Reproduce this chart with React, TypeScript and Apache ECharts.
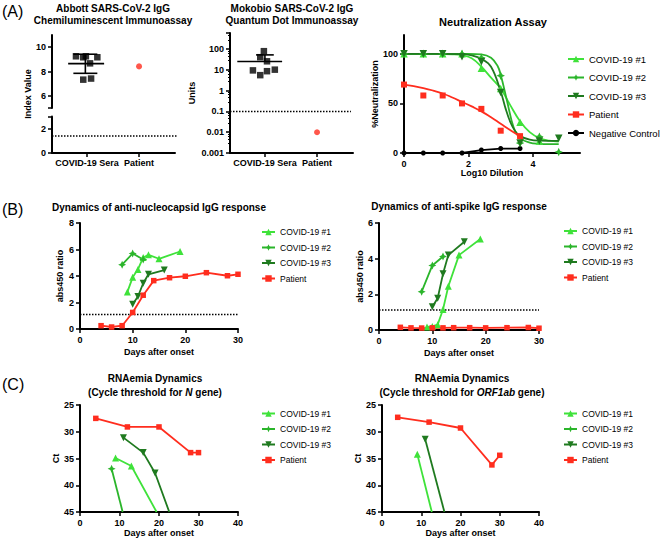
import React, { useEffect, useRef } from 'react';
import * as echarts from 'echarts';

const FONT = '"Liberation Sans", Arial, Helvetica, sans-serif';
const GREEN1 = '#3fe23a';
const GREEN2 = '#2bb52b';
const GREEN3 = '#1f7a1f';
const RED = '#ff2d1e';
const STAR = 'path://M0,-10 L3.2,-3.2 L10,0 L3.2,3.2 L0,10 L-3.2,3.2 L-10,0 L-3.2,-3.2 Z';

// ---------- Panel A: Abbott ----------
const groupLabels = ['COVID-19 Sera', 'Patient'];
const abbottJitter = [0.79, 0.93, 0.98, 1.2, 1.06, 0.93, 1.08];
const abbottValues = [9.25, 9.17, 9.25, 9.17, 8.67, 7.33, 7.42];
const abbottPatient = [2, 8.42];
// [whisker x, mean, mean-SD, mean+SD, mean line from, mean line to, cap half width]
const abbottMeanSd = [0.97, 8.65, 7.85, 9.42, 0.64, 1.33, 0.23];
const abbottCutoff = 1.4;

// ---------- Panel A: Mokobio ----------
const mokoJitter = [0.98, 0.91, 1.04, 0.77, 0.91, 1.04, 1.19];
const mokoValues = [80, 41, 26, 9.5, 5.6, 8.7, 10.3];
const mokoPatient = [2, 0.01];
const mokoMeanSd = [1.0, 25.6, null, 53, 0.47, 1.33, 0.17];
const mokoCutoff = 0.1;

// ---------- Panel A: Neutralization ----------
const neutX = [0, 0.6, 1.2, 1.8, 2.4, 3.0, 3.6, 4.2, 4.8];
const neutCovid1 = [100, 100, 100, 100, 85.5, 65, 31, 12, null];
const neutCovid2 = [100, 100, 100, 100, 96, 78, 10, 16.5, 1];
const neutCovid3 = [100, 100, 100, 97, 92, 61, 10, 12, 15];
const neutPatient = [69, 58, 58, 50, 44.5, 22.5, 17, null, null];
const neutNegative = [0, 0, 0, 0, 3, 4.5, 4.5, null, null];
const fitCovid1 = [[0, 100], [0.5, 100], [1, 100], [1.5, 99.5], [1.8, 98.5], [2.1, 95.5], [2.4, 87], [2.7, 76], [3.0, 65], [3.3, 48], [3.6, 32], [3.9, 21], [4.2, 15], [4.5, 12.5], [4.8, 11.5]];
const fitCovid2 = [[0, 100], [1, 100], [2, 100], [2.4, 99.5], [2.7, 96], [2.9, 88], [3.0, 79], [3.2, 52], [3.4, 26], [3.6, 15], [3.9, 10.5], [4.2, 9.3], [4.5, 9], [4.8, 9]];
const fitCovid3 = [[0, 100], [1, 100], [1.8, 99.8], [2.1, 98.5], [2.4, 95], [2.7, 87], [3.0, 62], [3.15, 45], [3.3, 31], [3.45, 22], [3.6, 17], [3.9, 13.5], [4.2, 12.5], [4.8, 12.3]];
const fitPatient = [[0, 69], [0.3, 67.5], [0.6, 65.5], [0.9, 63], [1.2, 60], [1.5, 56], [1.8, 51.5], [2.1, 47], [2.4, 42], [2.7, 36], [3.0, 29.5], [3.3, 23], [3.6, 17]];

// ---------- Panel B ----------
const nCovid1 = [[9, 2.8], [10, 3.9], [11, 4.5], [12, 5.4], [13, 5.6], [15, 5.3], [19, 5.85]];
const nCovid2 = [[8, 4.85], [10, 5.7], [12, 5.25]];
const nCovid3 = [[10, 1.86], [11, 2.45], [12, 3.45], [13, 4.13], [16, 4.45]];
const patientDays = [4, 6, 8, 10, 12, 14, 17, 20, 24, 28, 30];
const nPatient = [0.25, 0.15, 0.25, 1.25, 2.55, 3.65, 3.87, 3.98, 4.25, 4.02, 4.13];
const nCutoff = 1.1;
const sCovid1 = [[9, 0.17], [10, 0.2], [11, 0.3], [12, 1.15], [13, 2.45], [15, 4.2], [19, 5.1]];
const sCovid2 = [[8, 2.15], [10, 3.62], [12, 4.12]];
const sCovid3 = [[10, 1.3], [11, 1.78], [12, 3.15], [13, 4.2], [16, 4.95]];
const sPatient = [0.15, 0.12, 0.11, 0.12, 0.12, 0.13, 0.13, 0.12, 0.13, 0.14, 0.1];
const sCutoff = 1.12;

// ---------- Panel C ----------
const ctLimit = 45;
const ctNCovid1 = [[9, 34.9], [13, 36.4], [19.4, 45]];
const ctNCovid2 = [[8, 36.9], [10.8, 45]];
const ctNCovid3 = [[11, 31.1], [16, 33.9], [19, 37.7], [22.6, 45]];
const ctNPatient = [[4, 27.5], [12, 29.1], [20, 29.1], [28, 33.9], [30, 33.9]];
const ctOCovid1 = [[9, 34.2], [12.7, 45]];
const ctOCovid3 = [[11, 31.4], [15.9, 45]];
const ctOPatient = [[4, 27.3], [12, 28.2], [20, 29.3], [28, 36.2], [30, 34.4]];

const legendNames = ['COVID-19 #1', 'COVID-19 #2', 'COVID-19 #3', 'Patient'];

const zip = (xs: number[], ys: (number | null)[]) =>
  xs.map((x, i) => [x, ys[i]]).filter((p) => p[1] !== null && p[1] !== undefined);
const ctData = (pts: number[][]) =>
  pts.map(([d, c]) => (c >= ctLimit ? { value: [d, c], symbol: 'none' } : [d, c]));

const SERIES_STYLE: Record<string, any> = {
  'COVID-19 #1': { color: GREEN1, symbol: 'triangle', rotate: 0, size: 7 },
  'COVID-19 #2': { color: GREEN2, symbol: STAR, rotate: 0, size: 8 },
  'COVID-19 #3': { color: GREEN3, symbol: 'triangle', rotate: 180, size: 7 },
  Patient: { color: RED, symbol: 'rect', rotate: 0, size: 5.5 },
  'Negative Control': { color: '#000', symbol: 'circle', rotate: 0, size: 5 },
};

function dataLine(name: string, data: any[], idx: number) {
  const s = SERIES_STYLE[name];
  return {
    type: 'line', name, data, xAxisIndex: idx, yAxisIndex: idx,
    symbol: s.symbol, symbolRotate: s.rotate, symbolSize: s.size, showSymbol: true,
    itemStyle: { color: s.color }, lineStyle: { color: s.color, width: 1.8 },
    z: 3, silent: true,
  };
}
function fitLine(name: string, data: any[], idx: number, smooth = 0.4) {
  const s = SERIES_STYLE[name];
  return {
    type: 'line', name, data, xAxisIndex: idx, yAxisIndex: idx, symbol: 'none',
    smooth, lineStyle: { color: s.color, width: 1.8 }, itemStyle: { color: s.color },
    z: 2, silent: true,
  };
}
function markers(name: string, data: any[], idx: number) {
  const s = SERIES_STYLE[name];
  return {
    type: 'scatter', name, data, xAxisIndex: idx, yAxisIndex: idx,
    symbol: s.symbol, symbolRotate: s.rotate, symbolSize: s.size + 0.5,
    itemStyle: { color: s.color, opacity: 1 }, z: 4, silent: true,
  };
}
function cutoffLine(data: number[][], idx: number) {
  return {
    type: 'line', data, xAxisIndex: idx, yAxisIndex: idx, symbol: 'none', clip: false,
    lineStyle: { color: '#000', width: 1.5, type: [1.5, 1.5] }, z: 1, silent: true,
  };
}

function errorBar(params: any, api: any) {
  const v = (i: number) => api.value(i);
  const x = v(0), m = v(1), lo = v(2), hi = v(3), ml = v(4), mr = v(5), cw = v(6);
  const style = { stroke: '#000', lineWidth: 1.6 };
  const seg = (a: number[], b: number[]) => ({ type: 'line', shape: { x1: a[0], y1: a[1], x2: b[0], y2: b[1] }, style });
  const c = (a: number, b: number) => api.coord([a, b]);
  const children: any[] = [seg(c(ml, m), c(mr, m)), seg(c(x, m), c(x, hi)), seg(c(x - cw, hi), c(x + cw, hi))];
  if (isFinite(lo)) {
    children.push(seg(c(x, m), c(x, lo)));
    children.push(seg(c(x - cw, lo), c(x + cw, lo)));
  }
  return { type: 'group', children };
}

const nameS = () => ({ color: '#000', fontWeight: 'bold', fontSize: 9, fontFamily: FONT });

function axis(gi: number, o: any = {}) {
  return {
    type: 'value', gridIndex: gi, show: true, splitLine: { show: false },
    axisLine: { show: true, onZero: false, lineStyle: { color: '#000', width: 2 } },
    nameTextStyle: nameS(), nameLocation: 'middle',
    ...o,
    axisTick: { show: true, length: 4, inside: false, lineStyle: { color: '#000', width: 1.5 }, ...(o.axisTick || {}) },
    axisLabel: { show: true, color: '#000', fontWeight: 'bold', fontSize: 9, fontFamily: FONT, margin: 6, ...(o.axisLabel || {}) },
  };
}

function titleItem(text: string, cx: number, top: number, size: number, lh: number, extra: any = {}) {
  return {
    text, left: cx, top, padding: 0, textAlign: 'center', textVerticalAlign: 'top',
    textStyle: { fontFamily: FONT, fontWeight: 'bold', fontSize: size, lineHeight: lh, color: '#000', ...extra },
  };
}
function panelLabel(text: string, top: number) {
  return {
    text, left: 2, top, padding: 0, textAlign: 'left', textVerticalAlign: 'top',
    textStyle: { fontFamily: FONT, fontWeight: 'normal', fontSize: 16, color: '#000' },
  };
}
function legendItem(left: number, top: number, names: string[], w: number, h: number, gap: number, fs: number) {
  return {
    orient: 'vertical', left, top, padding: 0, itemWidth: w, itemHeight: h, itemGap: gap,
    selectedMode: false, data: names,
    textStyle: { fontFamily: FONT, fontSize: fs, color: '#000' },
  };
}

const catAxisX = (gi: number) =>
  axis(gi, {
    min: 0.33, max: 2.69,
    axisTick: { customValues: [1, 2] },
    axisLabel: { customValues: [1, 2], margin: 5, formatter: (v: number) => groupLabels[Math.round(v) - 1] || '' },
  });

const RICH_I = { fontFamily: FONT, fontWeight: 'bold', fontStyle: 'italic', fontSize: 10, lineHeight: 14, color: '#000' };
const RICH_B = { fontFamily: FONT, fontWeight: 'bold', fontSize: 10, lineHeight: 14, color: '#000' };

function buildOption(): any {
  const logLabels = ['0.001', '0.01', '0.1', '1', '10', '100'];
  return {
    animation: false,
    textStyle: { fontFamily: FONT, color: '#000' },
    title: [
      panelLabel('(A)', 3),
      panelLabel('(B)', 201),
      panelLabel('(C)', 376),
      titleItem('Abbott SARS-CoV-2 IgG\nChemiluminescent Immunoassay', 113, 2, 10, 12),
      titleItem('Mokobio SARS-CoV-2 IgG\nQuantum Dot Immunoassay', 292, 2, 10, 12),
      titleItem('Neutralization Assay', 493, 16, 11, 12),
      titleItem('Dynamics of anti-nucleocapsid IgG response', 159, 201, 10, 12),
      titleItem('Dynamics of anti-spike IgG response', 459, 200, 10, 12),
      titleItem('{b|RNAemia Dynamics}\n{b|(Cycle threshold for }{i|N}{b| gene)}', 155, 371, 10, 14, { rich: { i: RICH_I, b: RICH_B } }),
      titleItem('{b|RNAemia Dynamics}\n{b|(Cycle threshold for }{i|ORF1ab}{b| gene)}', 462, 371, 10, 14, { rich: { i: RICH_I, b: RICH_B } }),
    ],
    legend: [
      legendItem(567, 54, [...legendNames, 'Negative Control'], 16, 8, 8.5, 9.5),
      legendItem(261, 227.5, legendNames, 13, 8, 6.5, 8.5),
      legendItem(563, 226.5, legendNames, 13, 8, 6.5, 8.5),
      legendItem(261, 409, legendNames, 13, 8, 6.5, 8.5),
      legendItem(563, 409, legendNames, 13, 8, 6.5, 8.5),
    ],
    grid: [
      { left: 52, top: 35, width: 123, height: 73 },
      { left: 52, top: 116.5, width: 123, height: 36.5 },
      { left: 230, top: 33, width: 123, height: 120 },
      { left: 404, top: 35, width: 176, height: 118 },
      { left: 80, top: 223, width: 158, height: 106 },
      { left: 379, top: 223, width: 160, height: 107 },
      { left: 80, top: 405, width: 158, height: 107 },
      { left: 382, top: 405, width: 157, height: 107 },
    ],
    xAxis: [
      { type: 'value', gridIndex: 0, min: 0.33, max: 2.69, show: false },
      catAxisX(1),
      catAxisX(2),
      axis(3, { min: 0, max: 5.46, name: 'Log10 Dilution', nameGap: 15, axisTick: { customValues: [0, 2, 4] }, axisLabel: { customValues: [0, 2, 4] } }),
      axis(4, { min: 0, max: 30, interval: 10, name: 'Days after onset', nameGap: 18 }),
      axis(5, { min: 0, max: 30, interval: 10, name: 'Days after onset', nameGap: 18 }),
      axis(6, { min: 0, max: 40, interval: 10, name: 'Days after onset', nameGap: 16.5 }),
      axis(7, { min: 0, max: 40, interval: 10, name: 'Days after onset', nameGap: 16.5 }),
    ],
    yAxis: [
      axis(0, { min: 5, max: 11, axisTick: { customValues: [5, 6, 8, 10] }, axisLabel: { customValues: [6, 8, 10] } }),
      axis(1, { min: 0, max: 3, axisTick: { customValues: [0, 2, 3] }, axisLabel: { customValues: [0, 2], showMinLabel: true } }),
      axis(2, {
        type: 'log', logBase: 10, min: 0.001, max: 600, name: 'Units', nameGap: 33.5,
        minorTick: { show: true, splitNumber: 5, length: 2, lineStyle: { color: '#000', width: 1 } },
        axisLabel: {
          showMaxLabel: false,
          formatter: (v: number) => {
            const l = Math.log10(v);
            const r = Math.round(l);
            return Math.abs(l - r) < 1e-6 ? logLabels[r + 3] || '' : '';
          },
        },
      }),
      axis(3, { min: 0, max: 119, name: '%Neutralization', nameGap: 24.5, axisTick: { customValues: [0, 50, 100] }, axisLabel: { customValues: [0, 50, 100] } }),
      axis(4, { min: 0, max: 8, interval: 2, name: 'abs450 ratio', nameGap: 15.5 }),
      axis(5, { min: 0, max: 6, interval: 2, name: 'abs450 ratio', nameGap: 13.5 }),
      axis(6, { min: 25, max: 45, interval: 5, inverse: true, name: 'Ct', nameGap: 18.5 }),
      axis(7, { min: 25, max: 45, interval: 5, inverse: true, name: 'Ct', nameGap: 17.5 }),
    ],
    graphic: [
      {
        type: 'text', x: 28, y: 94, rotation: Math.PI / 2,
        style: { text: 'Index Value', fontFamily: FONT, fontWeight: 'bold', fontSize: 9, fill: '#000', align: 'center', verticalAlign: 'middle' },
      },
    ],
    series: [
      // B1 first so the legends take their icons from these line series
      dataLine('COVID-19 #1', nCovid1, 4),
      dataLine('COVID-19 #2', nCovid2, 4),
      dataLine('COVID-19 #3', nCovid3, 4),
      dataLine('Patient', zip(patientDays, nPatient), 4),
      cutoffLine([[0, nCutoff], [30, nCutoff]], 4),
      dataLine('Negative Control', zip(neutX, neutNegative), 3),
      dataLine('COVID-19 #1', sCovid1, 5),
      dataLine('COVID-19 #2', sCovid2, 5),
      dataLine('COVID-19 #3', sCovid3, 5),
      dataLine('Patient', zip(patientDays, sPatient), 5),
      cutoffLine([[0, sCutoff], [30, sCutoff]], 5),
      dataLine('COVID-19 #1', ctData(ctNCovid1), 6),
      dataLine('COVID-19 #2', ctData(ctNCovid2), 6),
      dataLine('COVID-19 #3', ctData(ctNCovid3), 6),
      dataLine('Patient', ctData(ctNPatient), 6),
      dataLine('COVID-19 #1', ctData(ctOCovid1), 7),
      dataLine('COVID-19 #3', ctData(ctOCovid3), 7),
      dataLine('Patient', ctData(ctOPatient), 7),
      {
        type: 'scatter', xAxisIndex: 0, yAxisIndex: 0, symbol: 'rect', symbolSize: 6.5,
        data: zip(abbottJitter, abbottValues), itemStyle: { color: '#000' }, z: 4, silent: true,
      },
      {
        type: 'scatter', xAxisIndex: 0, yAxisIndex: 0, symbol: 'circle', symbolSize: 6,
        data: [abbottPatient], itemStyle: { color: RED }, z: 4, silent: true,
      },
      { type: 'custom', xAxisIndex: 0, yAxisIndex: 0, renderItem: errorBar, data: [abbottMeanSd], z: 5, silent: true },
      cutoffLine([[0.33, abbottCutoff], [2.98, abbottCutoff]], 1),
      {
        type: 'scatter', xAxisIndex: 2, yAxisIndex: 2, symbol: 'rect', symbolSize: 6.5,
        data: zip(mokoJitter, mokoValues), itemStyle: { color: '#000' }, z: 4, silent: true,
      },
      {
        type: 'scatter', xAxisIndex: 2, yAxisIndex: 2, symbol: 'circle', symbolSize: 6,
        data: [mokoPatient], itemStyle: { color: RED }, z: 4, silent: true,
      },
      { type: 'custom', xAxisIndex: 2, yAxisIndex: 2, renderItem: errorBar, data: [mokoMeanSd], z: 5, silent: true },
      cutoffLine([[0.33, mokoCutoff], [2.65, mokoCutoff]], 2),
      fitLine('COVID-19 #1', fitCovid1, 3),
      fitLine('COVID-19 #2', fitCovid2, 3),
      fitLine('COVID-19 #3', fitCovid3, 3),
      fitLine('Patient', fitPatient, 3, 0.5),
      markers('COVID-19 #1', zip(neutX, neutCovid1), 3),
      markers('COVID-19 #2', zip(neutX, neutCovid2), 3),
      markers('COVID-19 #3', zip(neutX, neutCovid3), 3),
      markers('Patient', zip(neutX, neutPatient), 3),
    ],
  };
}

export default function App() {
  const ref = useRef<HTMLDivElement>(null);
  useEffect(() => {
    if (!ref.current) return;
    const chart = echarts.init(ref.current, null, { renderer: 'svg' });
    chart.setOption(buildOption());
    return () => chart.dispose();
  }, []);
  return <div ref={ref} style={{ position: 'absolute', left: 0, top: 0, width: 661, height: 542, background: '#fff' }} />;
}
